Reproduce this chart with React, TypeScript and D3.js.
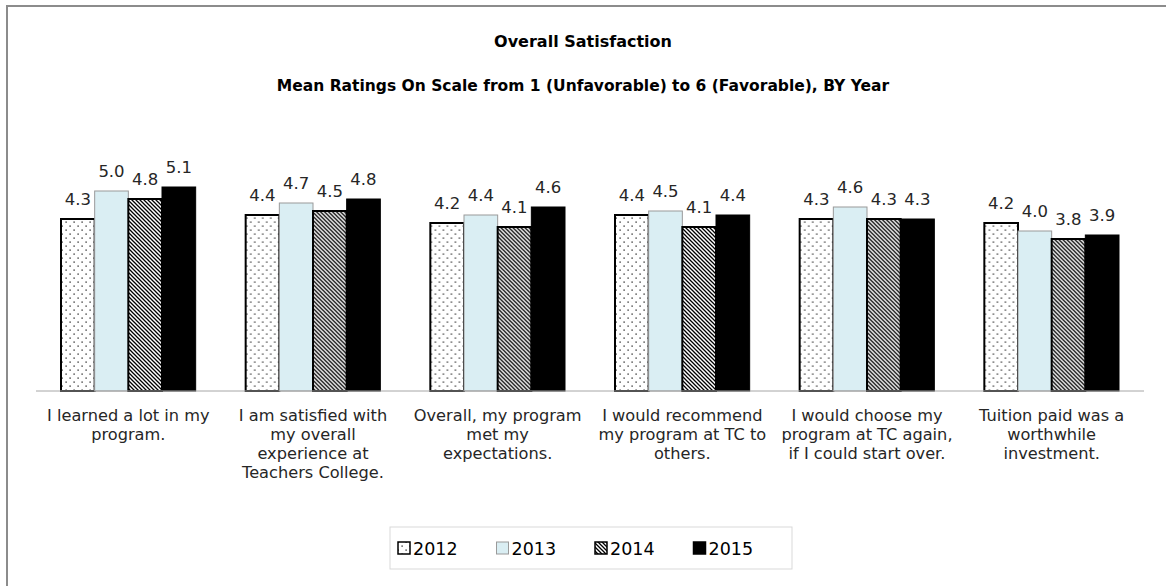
import React from "react";
import * as d3 from "d3";

const categories: string[][] = [
  ["I learned a lot in my", "program."],
  ["I am satisfied with", "my overall", "experience at", "Teachers College."],
  ["Overall, my program", "met my", "expectations."],
  ["I would recommend", "my program at TC to", "others."],
  ["I would choose my", "program at TC again,", "if I could start over."],
  ["Tuition paid was a", "worthwhile", "investment."],
];
const years = ["2012", "2013", "2014", "2015"];
const values2012 = [4.3, 4.4, 4.2, 4.4, 4.3, 4.2];
const values2013 = [5.0, 4.7, 4.4, 4.5, 4.6, 4.0];
const values2014 = [4.8, 4.5, 4.1, 4.1, 4.3, 3.8];
const values2015 = [5.1, 4.8, 4.6, 4.4, 4.3, 3.9];
const series = [values2012, values2013, values2014, values2015];
const title = "Overall Satisfaction";
const subtitle = "Mean Ratings On Scale from 1 (Unfavorable) to 6 (Favorable), BY Year";

const W = 1166;
const H = 586;
const FONT = "'DejaVu Sans', 'Open Sans', sans-serif";

const fills = ["url(#dots)", "#DAEEF3", "url(#hatch)", "#000000"];
const strokes = ["#000000", "#9a9a9a", "#000000", "#000000"];
const strokeW = [2, 1, 2, 1];

export default function App() {
  const x0 = d3.scaleBand<number>().domain(d3.range(categories.length)).range([36, 1144]).padding(0);
  const x1 = d3
    .scaleBand<number>()
    .domain(d3.range(years.length))
    .range([25, x0.bandwidth() - 25])
    .padding(0);
  const y = d3.scaleLinear().domain([0, 6]).range([391, 151]);

  const legendX = d3.scaleBand<number>().domain(d3.range(years.length)).range([396, 790]);

  return (
    <svg
      width={W}
      height={H}
      style={{ position: "absolute", left: 0, top: 0, background: "#fff" }}
      fontFamily={FONT}
    >
      <defs>
        <pattern id="dots" width={8} height={8} patternUnits="userSpaceOnUse">
          <rect width={8} height={8} fill="#fff" />
          <rect x={1.5} y={1.5} width={1.2} height={1.2} fill="#000" />
          <rect x={5.5} y={5.5} width={1.2} height={1.2} fill="#000" />
        </pattern>
        <pattern id="hatch" width={4} height={4} patternUnits="userSpaceOnUse">
          <rect width={4} height={4} fill="#fff" />
          <path d="M-1,-1 L5,5 M-1,3 L1,5 M3,-1 L5,1" stroke="#000" strokeWidth={1.3} />
        </pattern>
      </defs>
      <rect x={0} y={0} width={W} height={H} fill="#fff" />
      <rect x={7} y={6} width={W + 50} height={H + 50} fill="none" stroke="#8c8c8c" strokeWidth={2} />

      <text x={583} y={47} textAnchor="middle" fontWeight="bold" fontSize={16} fill="#000">
        {title}
      </text>
      <text x={583} y={91} textAnchor="middle" fontWeight="bold" fontSize={15.5} fill="#000">
        {subtitle}
      </text>

      {categories.map((lines, ci) => {
        const gx = x0(ci)!;
        return (
          <g key={ci} transform={`translate(${gx},0)`}>
            {series.map((vals, si) => {
              const bx = x1(si)!;
              const by = y(vals[ci]);
              return (
                <g key={si}>
                  <rect
                    x={bx}
                    y={by}
                    width={x1.bandwidth()}
                    height={y(0) - by}
                    fill={fills[si]}
                    stroke={strokes[si]}
                    strokeWidth={strokeW[si]}
                  />
                  <text
                    x={bx + x1.bandwidth() / 2}
                    y={by - 14}
                    textAnchor="middle"
                    fontSize={16.5}
                    fill="#262626"
                  >
                    {d3.format(".1f")(vals[ci])}
                  </text>
                </g>
              );
            })}
            {lines.map((ln, li) => (
              <text
                key={li}
                x={x0.bandwidth() / 2}
                y={421 + li * 19}
                textAnchor="middle"
                fontSize={16.2}
                fill="#262626"
              >
                {ln}
              </text>
            ))}
          </g>
        );
      })}

      <line x1={36} x2={1144} y1={y(0)} y2={y(0)} stroke="#a6a6a6" strokeWidth={1} />

      <rect x={390} y={527} width={402} height={42} fill="#fff" stroke="#d9d9d9" strokeWidth={1} />
      {years.map((yr, i) => {
        const lx = legendX(i)!;
        return (
          <g key={yr}>
            <rect
              x={lx + 2}
              y={542}
              width={12}
              height={12}
              fill={fills[i]}
              stroke={strokes[i]}
              strokeWidth={i === 1 ? 1 : 1.5}
            />
            <text x={lx + 17} y={555} fontSize={17.5} fill="#000">
              {yr}
            </text>
          </g>
        );
      })}
    </svg>
  );
}
